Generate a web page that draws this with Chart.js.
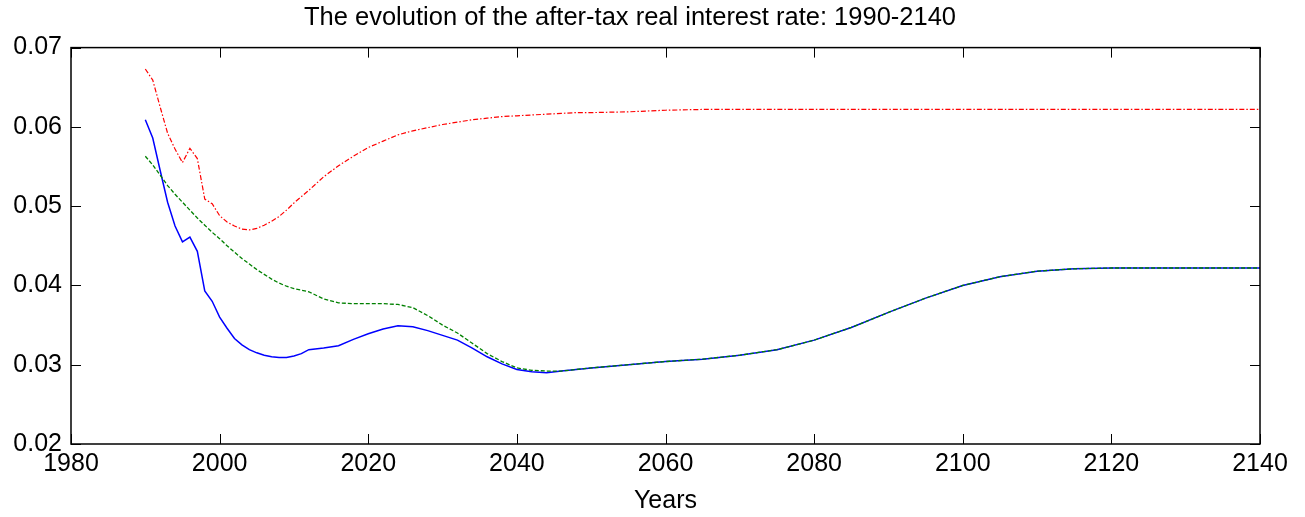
<!DOCTYPE html>
<html>
<head>
<meta charset="utf-8">
<script src="https://cdn.jsdelivr.net/npm/chart.js@4.4.1/dist/chart.umd.min.js"></script>
<style>
  html, body { margin: 0; padding: 0; background: #fff; }
  #wrap { width: 1305px; height: 517px; }
</style>
</head>
<body>
<div id="wrap"><canvas id="c" width="1305" height="517"></canvas></div>
<script>
const chartTitle = "The evolution of the after-tax real interest rate: 1990-2140";
const xTitle = "Years";

const years = [1990,1991,1992,1993,1994,1995,1996,1997,1998,1999,2000,2001,2002,2003,2004,2005,2006,2007,2008,2009,2010,2011,2012,2014,2016,2018,2020,2022,2024,2026,2028,2030,2032,2034,2036,2038,2040,2042,2044,2046,2048,2050,2055,2060,2065,2070,2075,2080,2085,2090,2095,2100,2105,2110,2115,2120,2125,2130,2135,2140];

const redSeries = [0.0673,0.0659,0.0625,0.0592,0.0572,0.0555,0.0573,0.0560,0.0509,0.0503,0.0488,0.0480,0.0475,0.0471,0.0470,0.0472,0.0476,0.0481,0.0487,0.0495,0.0504,0.0512,0.0520,0.0537,0.0551,0.0563,0.0574,0.0582,0.0590,0.0595,0.0599,0.0603,0.0606,0.0609,0.0611,0.0613,0.0614,0.0615,0.0616,0.0617,0.0618,0.0618,0.0619,0.0621,0.0622,0.0622,0.0622,0.0622,0.0622,0.0622,0.0622,0.0622,0.0622,0.0622,0.0622,0.0622,0.0622,0.0622,0.0622,0.0622];

const blueSeries = [0.0609,0.0586,0.0545,0.0505,0.0475,0.0455,0.0461,0.0443,0.0393,0.0380,0.0360,0.0346,0.0333,0.0325,0.0319,0.0315,0.0312,0.0310,0.0309,0.0309,0.0311,0.0314,0.0319,0.0321,0.0324,0.0332,0.0339,0.0345,0.0349,0.0348,0.0343,0.0337,0.0331,0.0321,0.0310,0.0301,0.0294,0.0291,0.0290,0.0292,0.0294,0.0296,0.0300,0.0304,0.0307,0.0312,0.0319,0.0331,0.0347,0.0366,0.0384,0.0400,0.0411,0.0418,0.0421,0.0422,0.0422,0.0422,0.0422,0.0422];

const greenSeries = [0.0563,0.0552,0.0539,0.0526,0.0515,0.0505,0.0495,0.0485,0.0476,0.0467,0.0459,0.0450,0.0442,0.0434,0.0427,0.0420,0.0414,0.0408,0.0403,0.0399,0.0396,0.0394,0.0392,0.0383,0.0378,0.0377,0.0377,0.0377,0.0376,0.0372,0.0362,0.0350,0.0340,0.0327,0.0314,0.0304,0.0296,0.0293,0.0292,0.0292,0.0294,0.0296,0.0300,0.0304,0.0307,0.0312,0.0319,0.0331,0.0347,0.0366,0.0384,0.0400,0.0411,0.0418,0.0421,0.0422,0.0422,0.0422,0.0422,0.0422];

const xTicks = [1980,2000,2020,2040,2060,2080,2100,2120,2140];
const yTicks = [0.02,0.03,0.04,0.05,0.06,0.07];

function pts(vals) { return years.map((y, i) => ({ x: y, y: vals[i] })); }

const FONT = "'Liberation Sans', Arial, sans-serif";

const boxPlugin = {
  id: 'box',
  afterDraw(chart) {
    const { ctx, chartArea: a, scales } = chart;
    ctx.save();
    ctx.strokeStyle = '#000';
    ctx.lineWidth = 1;
    const L = 10;
    ctx.beginPath();
    scales.x.ticks.forEach(t => {
      const px = Math.round(scales.x.getPixelForValue(t.value)) + 0.5;
      ctx.moveTo(px, a.bottom); ctx.lineTo(px, a.bottom - L);
      ctx.moveTo(px, a.top); ctx.lineTo(px, a.top + L);
    });
    scales.y.ticks.forEach(t => {
      const py = Math.round(scales.y.getPixelForValue(t.value)) + 0.5;
      ctx.moveTo(a.left, py); ctx.lineTo(a.left + L, py);
      ctx.moveTo(a.right, py); ctx.lineTo(a.right - L, py);
    });
    ctx.stroke();
    ctx.lineWidth = 1.5;
    ctx.strokeRect(a.left, a.top, a.right - a.left, a.bottom - a.top);
    ctx.restore();
  }
};

new Chart(document.getElementById('c'), {
  type: 'line',
  data: {
    datasets: [
      { data: pts(redSeries), borderColor: '#ff0000', borderWidth: 1.2, borderDash: [5,2,1.5,2], pointRadius: 0, tension: 0, fill: false },
      { data: pts(greenSeries), borderColor: '#008000', borderWidth: 1.3, borderDash: [4,2], pointRadius: 0, tension: 0, fill: false },
      { data: pts(blueSeries), borderColor: '#0000ff', borderWidth: 1.5, pointRadius: 0, tension: 0, fill: false }
    ]
  },
  options: {
    responsive: false,
    animation: false,
    devicePixelRatio: 1,
    layout: { padding: { left: 0, right: 45, top: 0, bottom: 0 } },
    plugins: {
      legend: { display: false },
      tooltip: { enabled: false },
      title: {
        display: true, text: chartTitle, color: '#000',
        font: { family: FONT, size: 25.5, weight: 'normal' },
        padding: { top: 3, bottom: 14 }
      }
    },
    scales: {
      x: {
        type: 'linear', min: 1980, max: 2140,
        afterBuildTicks(s) { s.ticks = xTicks.map(v => ({ value: v })); },
        afterFit(s) { s.height = 73; },
        grid: { display: false, drawTicks: false },
        border: { display: false },
        ticks: { color: '#000', font: { family: FONT, size: 25 }, padding: 5, maxRotation: 0, autoSkip: false, callback: v => String(v) },
        title: { display: true, text: xTitle, color: '#000', font: { family: FONT, size: 25 }, padding: { top: 0, bottom: 1 } }
      },
      y: {
        type: 'linear', min: 0.02, max: 0.07,
        afterBuildTicks(s) { s.ticks = yTicks.map(v => ({ value: v })); },
        afterFit(s) { s.width = 71; },
        grid: { display: false, drawTicks: false },
        border: { display: false },
        ticks: { color: '#000', font: { family: FONT, size: 25 }, padding: 9, autoSkip: false, callback: v => v.toFixed(2) }
      }
    }
  },
  plugins: [boxPlugin]
});
</script>
</body>
</html>
